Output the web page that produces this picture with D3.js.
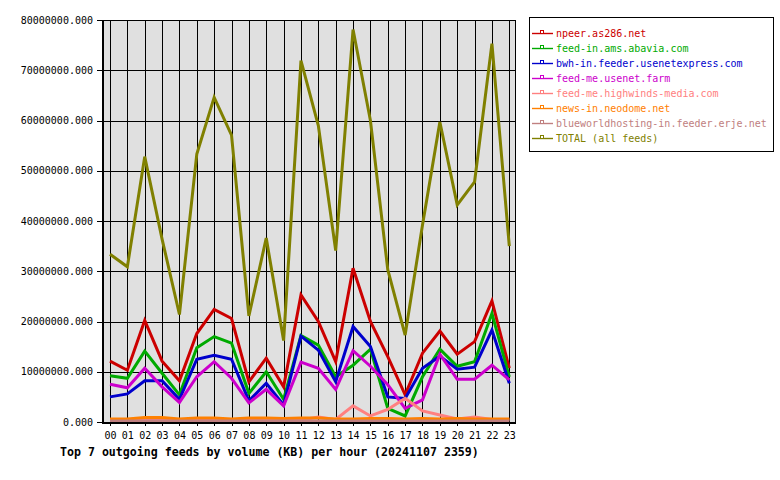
<!DOCTYPE html>
<html>
<head>
<meta charset="utf-8">
<script src="https://cdn.jsdelivr.net/npm/d3@7"></script>
<style>
html,body{margin:0;padding:0;background:#fff;}
svg{display:block;}
text{font-family:"DejaVu Sans Mono",monospace;}
</style>
</head>
<body>
<svg id="chart" width="780" height="480"></svg>
<script>
const hours = ["00","01","02","03","04","05","06","07","08","09","10","11","12","13","14","15","16","17","18","19","20","21","22","23"];
const yTicks = [0, 10e6, 20e6, 30e6, 40e6, 50e6, 60e6, 70e6, 80e6];
const seriesNames = ["npeer.as286.net","feed-in.ams.abavia.com","bwh-in.feeder.usenetexpress.com","feed-me.usenet.farm","feed-me.highwinds-media.com","news-in.neodome.net","blueworldhosting-in.feeder.erje.net","TOTAL (all feeds)"];
const seriesColors = ["#cc0000","#00aa00","#0000cc","#cc00cc","#ff8080","#ff8000","#c08080","#808000"];

const npeer = [12.1e6,10.3e6,20.2e6,12.1e6,8.2e6,17.6e6,22.4e6,20.6e6,8.0e6,12.7e6,7.0e6,25.3e6,20.0e6,12.0e6,30.6e6,20.0e6,13.0e6,5.4e6,13.7e6,18.1e6,13.5e6,16.0e6,24.1e6,10.7e6];
const abavia = [9.2e6,8.7e6,14.1e6,9.7e6,5.4e6,14.8e6,17.0e6,15.7e6,5.7e6,10.0e6,4.5e6,17.2e6,15.3e6,9.0e6,11.3e6,14.5e6,2.7e6,1.2e6,9.0e6,14.5e6,11.1e6,12.0e6,21.6e6,9.0e6];
const bwh = [5.0e6,5.6e6,8.2e6,8.2e6,4.5e6,12.5e6,13.3e6,12.5e6,4.2e6,7.7e6,3.4e6,17.1e6,14.3e6,8.0e6,19.0e6,15.0e6,5.0e6,4.7e6,10.7e6,13.1e6,10.5e6,10.9e6,18.3e6,7.7e6];
const usenetFarm = [7.5e6,6.8e6,10.7e6,7.0e6,3.9e6,9.0e6,12.0e6,8.7e6,3.8e6,6.5e6,3.2e6,11.9e6,10.7e6,6.5e6,14.2e6,11.1e6,7.4e6,2.7e6,4.4e6,13.5e6,8.5e6,8.5e6,11.3e6,8.4e6];
const highwinds = [0.3e6,0.3e6,0.3e6,0.3e6,0.3e6,0.3e6,0.3e6,0.3e6,0.3e6,0.3e6,0.3e6,0.4e6,1.0e6,0.5e6,3.2e6,1.2e6,2.5e6,4.7e6,2.2e6,1.4e6,0.6e6,1.0e6,0.5e6,0.5e6];
const neodome = [0.6e6,0.6e6,0.9e6,0.9e6,0.6e6,0.8e6,0.8e6,0.6e6,0.8e6,0.8e6,0.7e6,0.8e6,0.8e6,0.6e6,0.6e6,0.7e6,0.7e6,0.6e6,0.7e6,0.6e6,0.7e6,0.6e6,0.6e6,0.6e6];
const blueworld = [0.2e6,0.2e6,0.2e6,0.2e6,0.2e6,0.2e6,0.2e6,0.2e6,0.2e6,0.2e6,0.2e6,0.2e6,0.2e6,0.2e6,0.2e6,0.2e6,0.2e6,0.2e6,0.2e6,0.2e6,0.2e6,0.2e6,0.2e6,0.2e6];
const total = [33.4e6,30.9e6,52.8e6,36.4e6,21.4e6,53.3e6,64.6e6,57.1e6,21.1e6,36.6e6,16.2e6,71.9e6,59.0e6,34.1e6,78.1e6,60.0e6,30.3e6,17.3e6,39.2e6,59.7e6,43.2e6,47.8e6,75.3e6,35.0e6];

const seriesValues = [npeer, abavia, bwh, usenetFarm, highwinds, neodome, blueworld, total];

const svg = d3.select("#chart");
const pLeft = 102, pRight = 516, pTop = 20, pBottom = 422;

const x = d3.scalePoint().domain(hours).range([110, 509.3]);
const y = d3.scaleLinear().domain([0, 80e6]).range([pBottom, pTop]);

// plot background
svg.append("rect").attr("x", pLeft).attr("y", pTop).attr("width", pRight - pLeft).attr("height", pBottom - pTop)
  .attr("fill", "#e0e0e0");

// grid
const g = svg.append("g").attr("shape-rendering", "crispEdges");
g.selectAll("line.vg").data(hours).join("line")
  .attr("x1", d => Math.round(x(d)) + 0.5).attr("x2", d => Math.round(x(d)) + 0.5)
  .attr("y1", pTop).attr("y2", pBottom).attr("stroke", "#000").attr("stroke-width", 1);
g.selectAll("line.hg").data(yTicks).join("line")
  .attr("x1", pLeft).attr("x2", pRight)
  .attr("y1", d => Math.round(y(d)) + 0.5).attr("y2", d => Math.round(y(d)) + 0.5)
  .attr("stroke", "#000").attr("stroke-width", 1);

// lines
const line = d3.line().x((d, i) => x(hours[i])).y(d => y(d));
seriesValues.forEach((vals, i) => {
  svg.append("path").datum(vals).attr("d", line)
    .attr("fill", "none").attr("stroke", seriesColors[i]).attr("stroke-width", 3)
    .attr("stroke-linejoin", "miter").attr("stroke-linecap", "butt");
});

// border
svg.append("rect").attr("x", pLeft + 0.5).attr("y", pTop + 0.5).attr("width", pRight - pLeft - 1).attr("height", pBottom - pTop)
  .attr("fill", "none").attr("stroke", "#000").attr("stroke-width", 1).attr("shape-rendering", "crispEdges");
svg.append("line").attr("x1", pLeft + 0.5).attr("x2", pLeft + 0.5).attr("y1", pTop).attr("y2", pBottom + 1)
  .attr("stroke", "#000").attr("stroke-width", 2).attr("shape-rendering", "crispEdges");
svg.append("line").attr("x1", pLeft).attr("x2", pRight).attr("y1", pBottom + 0.5).attr("y2", pBottom + 0.5)
  .attr("stroke", "#000").attr("stroke-width", 2).attr("shape-rendering", "crispEdges");

// axes
const yAxis = d3.axisLeft(y).tickValues(yTicks).tickFormat(d3.format(".3f")).tickSize(5).tickPadding(4);
const ya = svg.append("g").attr("transform", `translate(${pLeft},0)`).call(yAxis);
ya.select(".domain").remove();
ya.selectAll("line").attr("stroke", "#000").attr("shape-rendering", "crispEdges");
ya.selectAll("text").attr("font-family", "DejaVu Sans Mono").attr("font-size", "10px").attr("fill", "#000");

const xAxis = d3.axisBottom(x).tickSize(4).tickPadding(6);
const xa = svg.append("g").attr("transform", `translate(0,${pBottom})`).call(xAxis);
xa.select(".domain").remove();
xa.selectAll("line").attr("stroke", "#000").attr("shape-rendering", "crispEdges");
xa.selectAll("text").attr("font-family", "DejaVu Sans Mono").attr("font-size", "10px").attr("fill", "#000");

// title
svg.append("text").attr("x", 60).attr("y", 456)
  .attr("font-family", "DejaVu Sans Mono").attr("font-weight", "bold").attr("font-size", "11.6px")
  .attr("fill", "#000").text("Top 7 outgoing feeds by volume (KB) per hour (20241107 2359)");

// legend
const lg = svg.append("g");
lg.append("rect").attr("x", 529.5).attr("y", 17.5).attr("width", 244).attr("height", 134)
  .attr("fill", "#fff").attr("stroke", "#000").attr("stroke-width", 1).attr("shape-rendering", "crispEdges");
seriesNames.forEach((name, i) => {
  const cy = 33 + i * 15;
  lg.append("line").attr("x1", 532).attr("x2", 553).attr("y1", cy + 0.5).attr("y2", cy + 0.5)
    .attr("stroke", seriesColors[i]).attr("stroke-width", 1.4);
  lg.append("rect").attr("x", 540.5).attr("y", cy - 2.5).attr("width", 3).attr("height", 3)
    .attr("fill", "#fff").attr("stroke", seriesColors[i]).attr("stroke-width", 1);
  lg.append("text").attr("x", 556).attr("y", cy + 4)
    .attr("font-family", "DejaVu Sans Mono").attr("font-size", "10px")
    .attr("fill", seriesColors[i]).text(name);
});
</script>
</body>
</html>
